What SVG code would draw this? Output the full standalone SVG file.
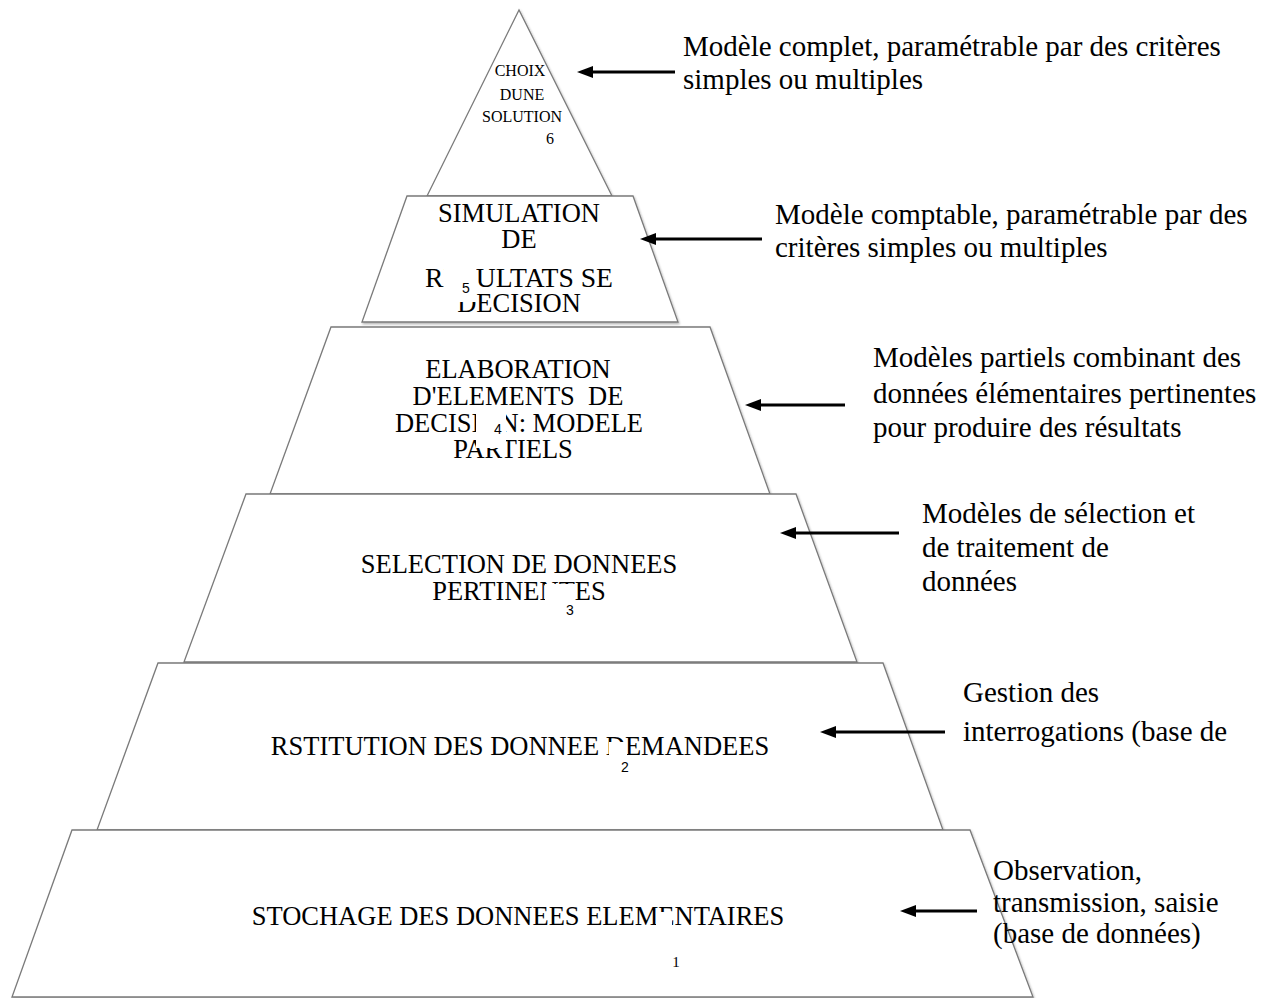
<svg xmlns="http://www.w3.org/2000/svg" width="1277" height="998" viewBox="0 0 1277 998">
<style>
.lvl{fill:#fff;stroke:#7a7a7a;stroke-width:1.3;filter:url(#sh)}
.t{font-family:"Liberation Serif","Times New Roman",serif;font-size:26.5px;fill:#000;text-anchor:middle}
.r{font-family:"Liberation Serif","Times New Roman",serif;font-size:29px;fill:#000}
.n{font-family:"Liberation Sans",Arial,sans-serif;font-size:14px;fill:#000;text-anchor:middle}
.occ{fill:#fff}
.arr{stroke:#000;stroke-width:3;fill:none;marker-end:url(#ah)}
</style>
<defs>
<filter id="sh" x="-5%" y="-5%" width="110%" height="115%">
<feDropShadow dx="1" dy="1.5" stdDeviation="1" flood-color="#000" flood-opacity="0.3"/>
</filter>
<marker id="ah" viewBox="0 0 16 12" refX="6" refY="6" markerWidth="16" markerHeight="12" markerUnits="userSpaceOnUse" orient="auto">
<path d="M0,0 L16,6 L0,12 z" fill="#000"/>
</marker>
</defs>
<rect width="1277" height="998" fill="#fff"/>

<g id="level6">
<polygon class="lvl" points="519,10 427,196 612,196"/>
<text class="t" style="font-size:16px" x="520" y="76">CHOIX</text>
<text class="t" style="font-size:16px" x="522" y="100">DUNE</text>
<text class="t" style="font-size:16px" x="522" y="122">SOLUTION</text>
<text class="t" style="font-size:16px" x="550" y="144">6</text>
</g>

<g id="level5">
<polygon class="lvl" points="407,196 633,196 678,322 362,322"/>
<text class="t" x="519" y="222">SIMULATION</text>
<text class="t" x="519" y="248">DE</text>
<text class="t" style="text-anchor:start" x="425" y="287" textLength="188" lengthAdjust="spacingAndGlyphs">RESULTATS SE</text>
<text class="t" x="519" y="312">DECISION</text>
<rect class="occ" x="444" y="265" width="32" height="37"/>
<text class="n" x="466" y="293">5</text>
</g>

<g id="level4">
<polygon class="lvl" points="331,327 710,327 770,494 270,494"/>
<text class="t" x="518" y="378">ELABORATION</text>
<text class="t" x="518" y="405" xml:space="preserve">D'ELEMENTS  DE</text>
<text class="t" x="519" y="432">DECISION: MODELE</text>
<text class="t" x="513" y="458">PARTIELS</text>
<rect class="occ" x="476" y="409" width="30" height="39"/>
<text class="n" x="498" y="434">4</text>
</g>

<g id="level3">
<polygon class="lvl" points="246,494 796,494 857,662 184,662"/>
<text class="t" x="519" y="573">SELECTION DE DONNEES</text>
<text class="t" x="519" y="600">PERTINENTES</text>
<rect class="occ" x="545" y="584" width="30" height="36"/>
<text class="n" x="570" y="615">3</text>
</g>

<g id="level2">
<polygon class="lvl" points="158,663 883,663 943,830 97,830"/>
<text class="t" x="520" y="755">RSTITUTION DES DONNEE DEMANDEES</text>
<rect class="occ" x="609" y="742" width="18" height="38"/>
<text class="n" x="625" y="772">2</text>
</g>

<g id="level1">
<polygon class="lvl" points="72,830 970,830 1033,997 12,997"/>
<text class="t" x="518" y="925">STOCHAGE DES DONNEES ELEMENTAIRES</text>
<rect class="occ" x="656" y="912" width="16" height="16"/>
<text class="t" style="font-size:15px" x="676" y="967">1</text>
</g>

<g id="descriptions">
<text class="r" x="683" y="56">Modèle complet, paramétrable par des critères</text>
<text class="r" x="683" y="89">simples ou multiples</text>
<text class="r" x="775" y="224">Modèle comptable, paramétrable par des</text>
<text class="r" x="775" y="257">critères simples ou multiples</text>
<text class="r" x="873" y="367">Modèles partiels combinant des</text>
<text class="r" x="873" y="403">données élémentaires pertinentes</text>
<text class="r" x="873" y="437">pour produire des résultats</text>
<text class="r" x="922" y="523">Modèles de sélection et</text>
<text class="r" x="922" y="557">de traitement de</text>
<text class="r" x="922" y="591">données</text>
<text class="r" x="963" y="702">Gestion des</text>
<text class="r" x="963" y="741">interrogations (base de</text>
<text class="r" x="993" y="880">Observation,</text>
<text class="r" x="993" y="912">transmission, saisie</text>
<text class="r" x="993" y="943">(base de données)</text>
</g>

<g id="connectors">
<line class="arr" x1="675" y1="72" x2="587" y2="72"/>
<line class="arr" x1="762" y1="239" x2="650" y2="239"/>
<line class="arr" x1="845" y1="405" x2="755" y2="405"/>
<line class="arr" x1="899" y1="533" x2="790" y2="533"/>
<line class="arr" x1="945" y1="732" x2="830" y2="732"/>
<line class="arr" x1="977" y1="911" x2="910" y2="911"/>
</g>
</svg>
